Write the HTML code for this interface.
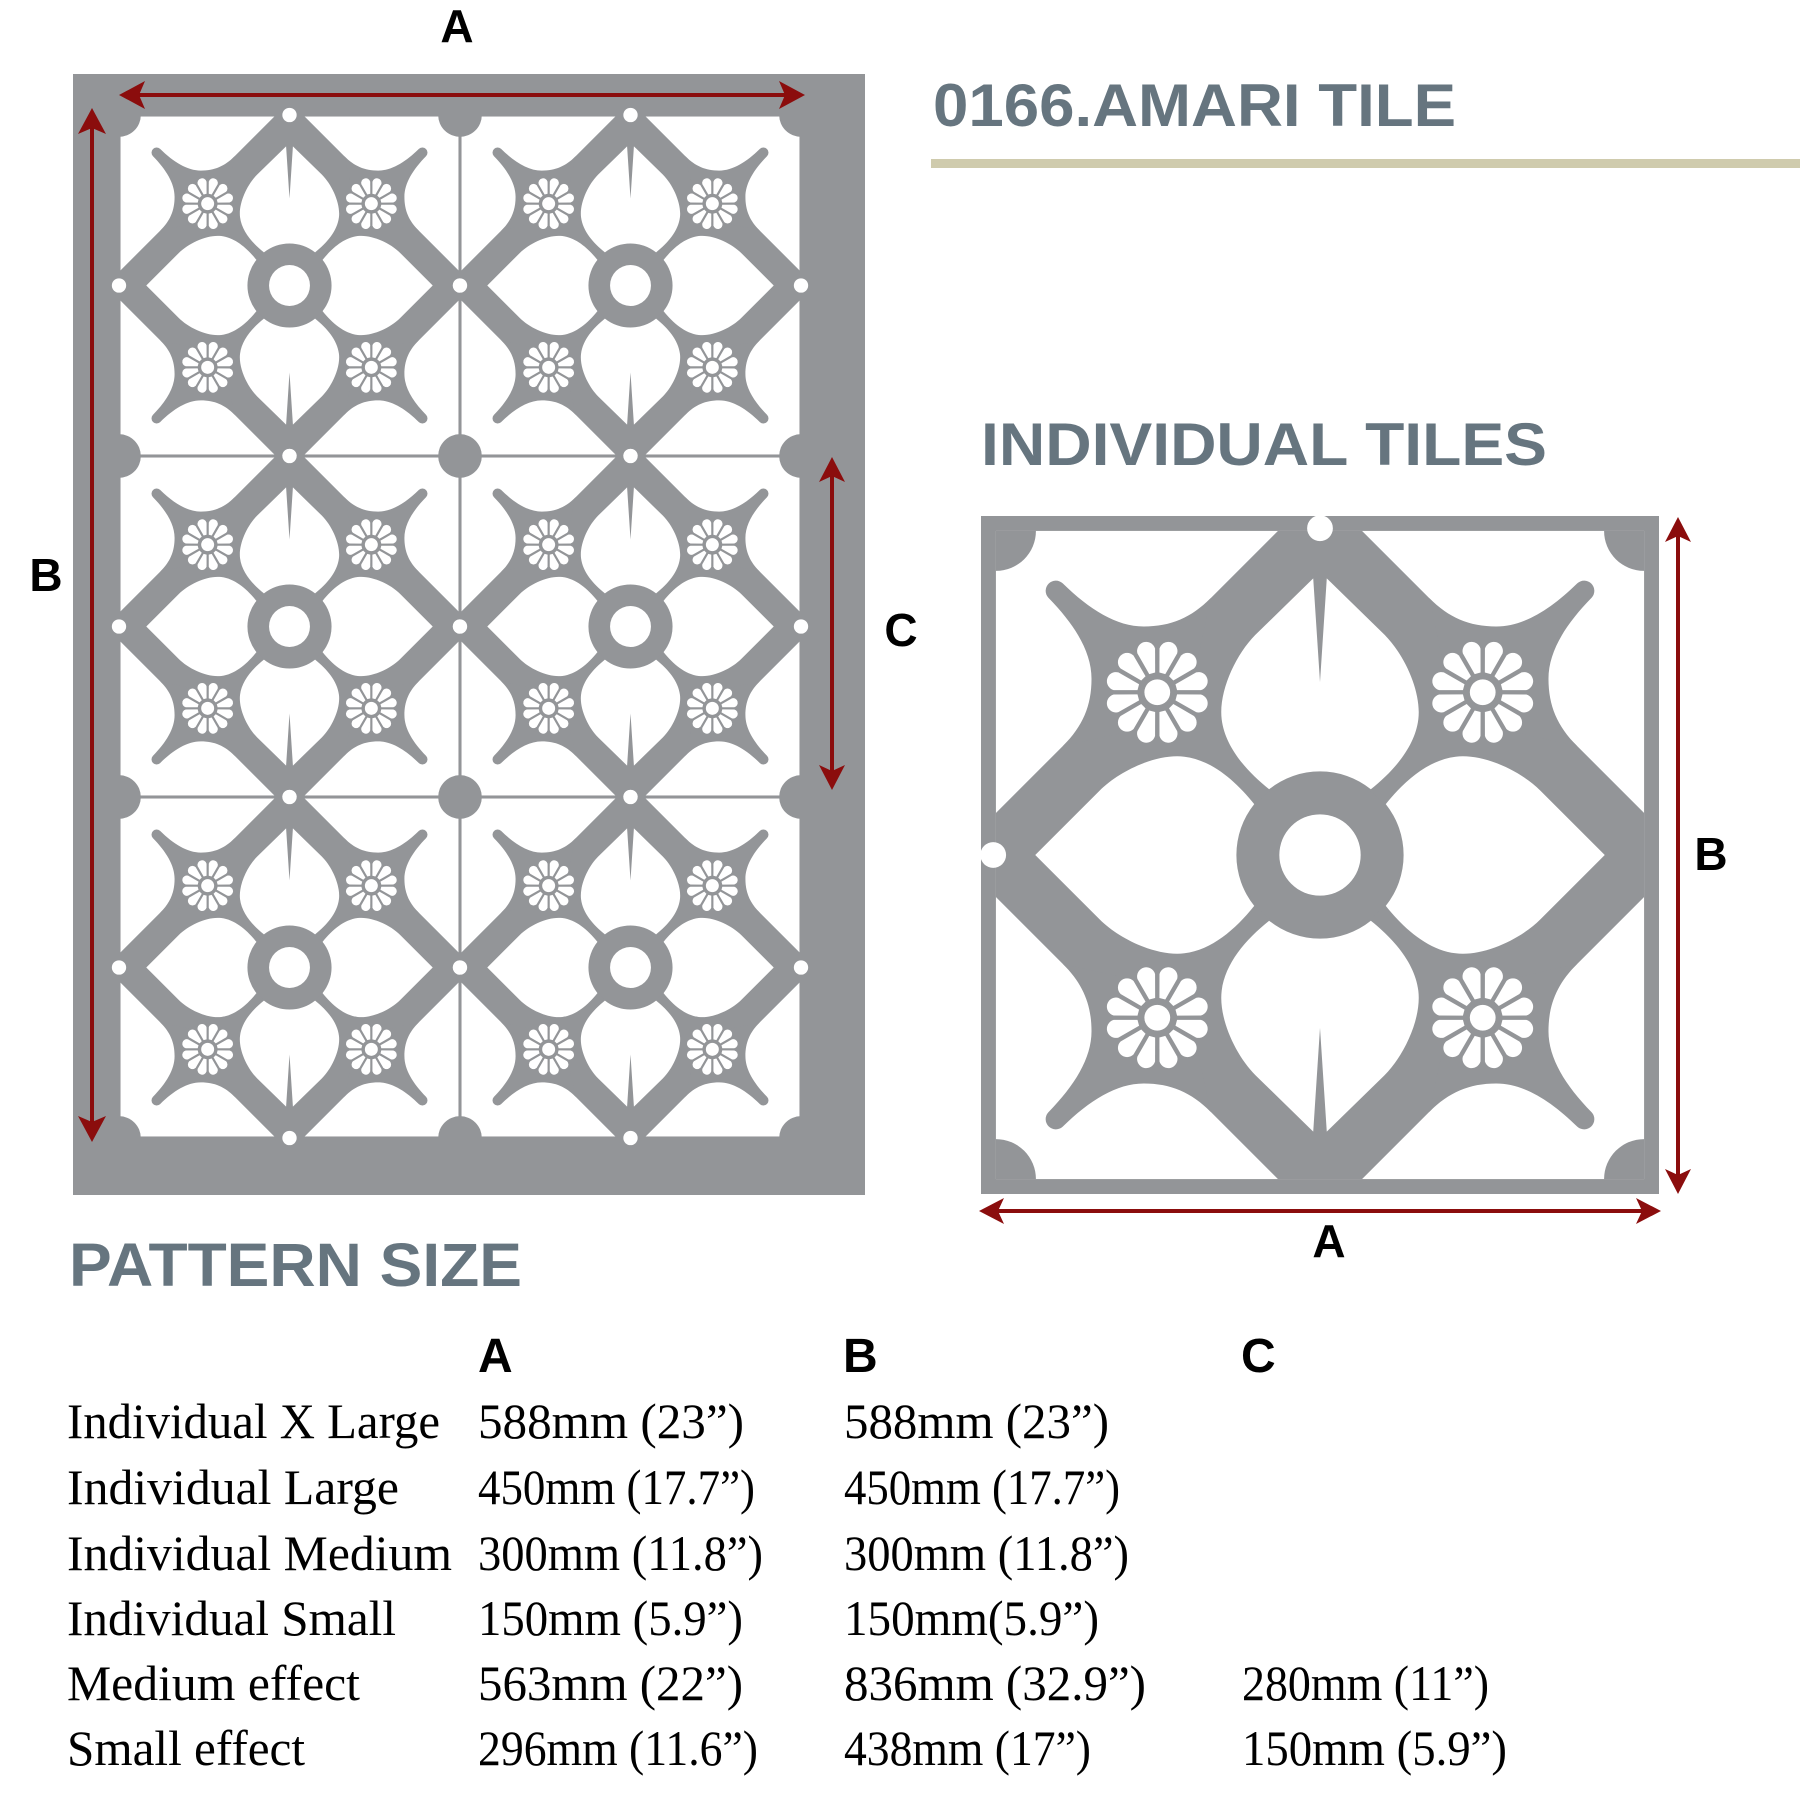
<!DOCTYPE html>
<html><head><meta charset="utf-8"><style>
html,body{margin:0;padding:0;background:#fff;}
svg{display:block;}
</style></head><body>
<svg width="1800" height="1800" viewBox="0 0 1800 1800" xmlns="http://www.w3.org/2000/svg">
<defs>
  <clipPath id="sq"><rect x="0" y="0" width="100" height="100"/></clipPath>
  <clipPath id="sqi"><rect x="2.2" y="2.2" width="95.6" height="95.6"/></clipPath>
  <path id="fp" d="M-0.45,-2.9 L-1.35,-6.3 A1.35 1.35 0 0 1 1.35,-6.3 L0.45,-2.9 Z" fill="#fff"/>
  <g id="flower">
    <use href="#fp" transform="rotate(15)"/><use href="#fp" transform="rotate(45)"/>
    <use href="#fp" transform="rotate(75)"/><use href="#fp" transform="rotate(105)"/>
    <use href="#fp" transform="rotate(135)"/><use href="#fp" transform="rotate(165)"/>
    <use href="#fp" transform="rotate(195)"/><use href="#fp" transform="rotate(225)"/>
    <use href="#fp" transform="rotate(255)"/><use href="#fp" transform="rotate(285)"/>
    <use href="#fp" transform="rotate(315)"/><use href="#fp" transform="rotate(345)"/>
    <circle r="1.9" fill="#fff"/>
  </g>
  <path id="arm" fill="#939598" d="M9.94,12.06 A1.5 1.5 0 0 1 12.06,9.94 C16,13.8 20,16.3 24,16.3 C28,16.3 31,15 33.9,12.1 L30,30 L12.1,33.9 C15,31 16.3,28 16.3,24 C16.3,20 13.8,16 9.94,12.06 Z"/>
  <path id="petS" fill="#fff" d="M49,9.2 L50,24.5 L51,9.2 L59.5,17.5 C62.5,20.5 65,26 64.5,30 C64,34 61,37.5 57.5,40.3 A12 12 0 0 0 42.5,40.3 C39,37.5 36,34 35.5,30 C35,26 37.5,20.5 40.5,17.5 Z"/>
  <path id="petP" fill="#fff" d="M50,8 L59.5,17.5 C62.5,20.5 65,26 64.5,30 C64,34 61,37.5 57.5,40.3 A12 12 0 0 0 42.5,40.3 C39,37.5 36,34 35.5,30 C35,26 37.5,20.5 40.5,17.5 Z"/>
  <g id="content">
    <polygon points="50,-4 104,50 50,104 -4,50" fill="#939598"/>
    <use href="#arm"/>
    <use href="#arm" transform="translate(100,0) scale(-1,1)"/>
    <use href="#arm" transform="translate(0,100) scale(1,-1)"/>
    <use href="#arm" transform="translate(100,100) scale(-1,-1)"/>
    <use href="#petS"/>
    <use href="#petS" transform="rotate(180 50 50)"/>
    <use href="#petP" transform="rotate(-90 50 50)"/>
    <use href="#petP" transform="rotate(90 50 50)"/>
    <circle cx="50" cy="50" r="12" fill="#939598"/>
    <circle cx="50" cy="50" r="6" fill="#fff"/>
    <use href="#flower" transform="translate(26,26)"/>
    <use href="#flower" transform="translate(74,26)"/>
    <use href="#flower" transform="translate(26,74)"/>
    <use href="#flower" transform="translate(74,74)"/>
  </g>
  <g id="bigtile">
    <rect x="0.45" y="0.45" width="99.1" height="99.1" fill="#fff"/>
    <g clip-path="url(#sq)">
      <use href="#content"/>
      <circle cx="0" cy="0" r="6.4" fill="#939598"/>
      <circle cx="100" cy="0" r="6.4" fill="#939598"/>
      <circle cx="0" cy="100" r="6.4" fill="#939598"/>
      <circle cx="100" cy="100" r="6.4" fill="#939598"/>
    </g>
    <circle cx="50" cy="0" r="2.1" fill="#fff"/>
    <circle cx="0" cy="50" r="2.1" fill="#fff"/>
    <circle cx="100" cy="50" r="2.1" fill="#fff"/>
    <circle cx="50" cy="100" r="2.1" fill="#fff"/>
  </g>
</defs>

<!-- Big pattern -->
<rect x="73" y="74" width="792" height="1121" fill="#939598"/>
<use href="#bigtile" transform="translate(119,115) scale(3.41)"/>
<use href="#bigtile" transform="translate(460,115) scale(3.41)"/>
<use href="#bigtile" transform="translate(119,456) scale(3.41)"/>
<use href="#bigtile" transform="translate(460,456) scale(3.41)"/>
<use href="#bigtile" transform="translate(119,797) scale(3.41)"/>
<use href="#bigtile" transform="translate(460,797) scale(3.41)"/>

<!-- Individual tile -->
<g transform="translate(981,516) scale(6.78)">
  <rect x="0" y="0" width="100" height="100" fill="#939598"/>
  <rect x="2.2" y="2.2" width="95.6" height="95.6" fill="#fff"/>
  <g clip-path="url(#sqi)">
    <use href="#content"/>
    <circle cx="2.2" cy="2.2" r="5.9" fill="#939598"/>
    <circle cx="97.8" cy="2.2" r="5.9" fill="#939598"/>
    <circle cx="2.2" cy="97.8" r="5.9" fill="#939598"/>
    <circle cx="97.8" cy="97.8" r="5.9" fill="#939598"/>
  </g>
  <circle cx="50" cy="1.8" r="1.9" fill="#fff"/>
  <circle cx="1.8" cy="50" r="1.9" fill="#fff"/>
</g>

<!-- Arrows -->
<g fill="#8b0d0d" stroke="none">
  <rect x="138" y="93" width="648" height="4"/>
  <polygon points="119,95 145,81 139,95 145,109"/>
  <polygon points="805,95 779,81 785,95 779,109"/>
  <rect x="90" y="127" width="4" height="996"/>
  <polygon points="92,108 78,134 92,128 106,134"/>
  <polygon points="92,1142 78,1116 92,1122 106,1116"/>
  <rect x="830" y="476" width="4" height="295"/>
  <polygon points="832,457 819,482 832,476 845,482"/>
  <polygon points="832,790 819,765 832,771 845,765"/>
  <rect x="1676" y="536" width="4" height="639"/>
  <polygon points="1678,517 1665,542 1678,536 1691,542"/>
  <polygon points="1678,1194 1665,1169 1678,1175 1691,1169"/>
  <rect x="998" y="1209" width="644" height="4"/>
  <polygon points="979,1211 1004,1198 998,1211 1004,1224"/>
  <polygon points="1661,1211 1636,1198 1642,1211 1636,1224"/>
</g>

<!-- Letters -->
<g font-family="Liberation Sans, sans-serif" font-weight="bold" fill="#000" font-size="46" text-anchor="middle">
  <text x="457" y="42">A</text>
  <text x="46" y="591">B</text>
  <text x="901" y="646">C</text>
  <text x="1711" y="870">B</text>
  <text x="1329" y="1257">A</text>
</g>

<!-- Titles -->
<g font-family="Liberation Sans, sans-serif" font-weight="bold" fill="#66757f">
  <text x="933" y="126" font-size="60" textLength="523" lengthAdjust="spacingAndGlyphs">0166.AMARI TILE</text>
  <text x="981" y="465" font-size="60" textLength="566" lengthAdjust="spacingAndGlyphs">INDIVIDUAL TILES</text>
  <text x="69" y="1286" font-size="61" textLength="453" lengthAdjust="spacingAndGlyphs">PATTERN SIZE</text>
</g>
<rect x="931" y="159" width="869" height="9" fill="#cfcbad"/>

<!-- Table headers -->
<g font-family="Liberation Sans, sans-serif" font-weight="bold" fill="#000" font-size="48">
  <text x="478" y="1372">A</text>
  <text x="843" y="1372">B</text>
  <text x="1241" y="1372">C</text>
</g>

<!-- Table rows -->
<g font-family="Liberation Serif, serif" fill="#000" font-size="50">
  <text x="67" y="1438" textLength="373" lengthAdjust="spacingAndGlyphs">Individual X Large</text>
  <text x="67" y="1504" textLength="332" lengthAdjust="spacingAndGlyphs">Individual Large</text>
  <text x="67" y="1570" textLength="385" lengthAdjust="spacingAndGlyphs">Individual Medium</text>
  <text x="67" y="1635" textLength="329" lengthAdjust="spacingAndGlyphs">Individual Small</text>
  <text x="67" y="1700" textLength="293" lengthAdjust="spacingAndGlyphs">Medium effect</text>
  <text x="67" y="1765" textLength="238" lengthAdjust="spacingAndGlyphs">Small effect</text>

  <text x="478" y="1438" textLength="266" lengthAdjust="spacingAndGlyphs">588mm (23”)</text>
  <text x="478" y="1504" textLength="277" lengthAdjust="spacingAndGlyphs">450mm (17.7”)</text>
  <text x="478" y="1570" textLength="285" lengthAdjust="spacingAndGlyphs">300mm (11.8”)</text>
  <text x="478" y="1635" textLength="265" lengthAdjust="spacingAndGlyphs">150mm (5.9”)</text>
  <text x="478" y="1700" textLength="265" lengthAdjust="spacingAndGlyphs">563mm (22”)</text>
  <text x="478" y="1765" textLength="280" lengthAdjust="spacingAndGlyphs">296mm (11.6”)</text>

  <text x="844" y="1438" textLength="265" lengthAdjust="spacingAndGlyphs">588mm (23”)</text>
  <text x="844" y="1504" textLength="276" lengthAdjust="spacingAndGlyphs">450mm (17.7”)</text>
  <text x="844" y="1570" textLength="285" lengthAdjust="spacingAndGlyphs">300mm (11.8”)</text>
  <text x="844" y="1635" textLength="255" lengthAdjust="spacingAndGlyphs">150mm(5.9”)</text>
  <text x="844" y="1700" textLength="302" lengthAdjust="spacingAndGlyphs">836mm (32.9”)</text>
  <text x="844" y="1765" textLength="247" lengthAdjust="spacingAndGlyphs">438mm (17”)</text>

  <text x="1242" y="1700" textLength="247" lengthAdjust="spacingAndGlyphs">280mm (11”)</text>
  <text x="1242" y="1765" textLength="265" lengthAdjust="spacingAndGlyphs">150mm (5.9”)</text>
</g>
</svg>
</body></html>
